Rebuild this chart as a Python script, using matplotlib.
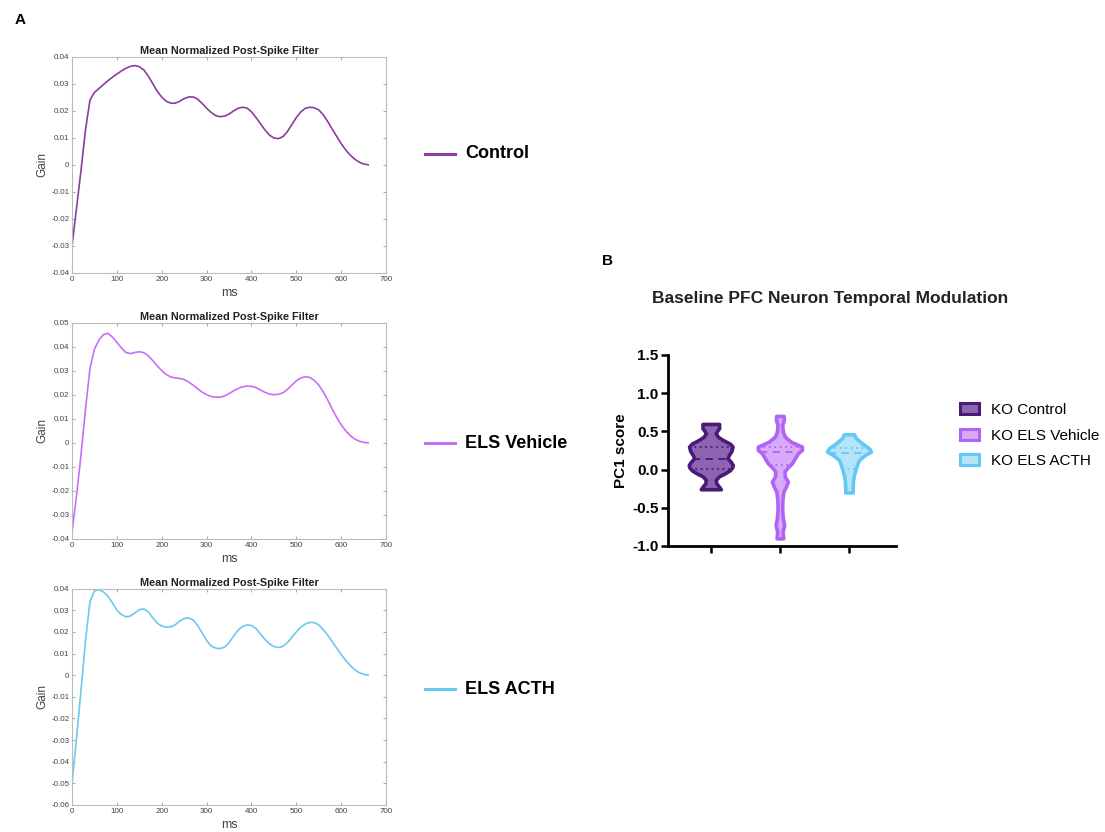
import numpy as np
import matplotlib
matplotlib.use("Agg")
import matplotlib.pyplot as plt
from matplotlib.patches import Patch

plt.rcParams['font.family'] = ['Liberation Sans', 'DejaVu Sans']

# ---- panel A: mean normalized post-spike filters (gain vs ms) ----
ms = list(range(0, 670, 10))

gain_control = [-0.030, -0.016, -0.002, 0.013, 0.024, 0.0268, 0.0282, 0.0297, 0.0311, 0.0324,
                0.0336, 0.0347, 0.0357, 0.0364, 0.0367, 0.0363, 0.0351, 0.0328, 0.0300, 0.0272,
                0.0250, 0.0235, 0.0228, 0.0228, 0.0235, 0.0245, 0.0251, 0.0251, 0.0243, 0.0227,
                0.0209, 0.0194, 0.0182, 0.0178, 0.0180, 0.0188, 0.0199, 0.0209, 0.0213, 0.0210,
                0.0196, 0.0175, 0.0152, 0.0129, 0.0110, 0.0099, 0.0097, 0.0104, 0.0123, 0.0149,
                0.0175, 0.0196, 0.0209, 0.0213, 0.0211, 0.0203, 0.0185, 0.0160, 0.0132, 0.0105,
                0.0078, 0.0055, 0.0036, 0.0021, 0.0010, 0.0003, 0.0]

gain_vehicle = [-0.037, -0.022, -0.005, 0.014, 0.031, 0.0390, 0.0428, 0.0450, 0.0456, 0.0440,
                0.0418, 0.0395, 0.0376, 0.0371, 0.0376, 0.0379, 0.0375, 0.0362, 0.0342, 0.0320,
                0.0300, 0.0284, 0.0274, 0.0270, 0.0268, 0.0263, 0.0253, 0.0240, 0.0225, 0.0211,
                0.0200, 0.0193, 0.0190, 0.0190, 0.0195, 0.0205, 0.0216, 0.0226, 0.0233, 0.0236,
                0.0235, 0.0230, 0.0220, 0.0210, 0.0203, 0.0200, 0.0202, 0.0208, 0.0222, 0.0240,
                0.0258, 0.0270, 0.0275, 0.0272, 0.0260, 0.0240, 0.0212, 0.0178, 0.0140, 0.0105,
                0.0075, 0.0050, 0.0030, 0.0016, 0.0007, 0.0002, 0.0]

gain_acth = [-0.050, -0.029, -0.007, 0.016, 0.034, 0.0390, 0.0395, 0.0385, 0.0365, 0.0335,
             0.0300, 0.0280, 0.0270, 0.0273, 0.0288, 0.0303, 0.0306, 0.0293, 0.0265, 0.0240,
             0.0227, 0.0222, 0.0223, 0.0233, 0.0250, 0.0262, 0.0265, 0.0255, 0.0230, 0.0195,
             0.0160, 0.0135, 0.0125, 0.0123, 0.0130, 0.0150, 0.0180, 0.0208, 0.0225, 0.0232,
             0.0230, 0.0215, 0.0190, 0.0165, 0.0145, 0.0132, 0.0128, 0.0133, 0.0150, 0.0175,
             0.0200, 0.0222, 0.0237, 0.0244, 0.0243, 0.0232, 0.0210, 0.0185, 0.0155, 0.0125,
             0.0095, 0.0068, 0.0045, 0.0025, 0.0012, 0.0004, 0.0]

psf_names = ['Control', 'ELS Vehicle', 'ELS ACTH']
psf_colors = ['#8a3d9e', '#c86ef8', '#6cc8f0']
psf_ylims = [(-0.04, 0.04), (-0.04, 0.05), (-0.06, 0.04)]

# ---- panel B: PC1 score violins (outline profiles: y, half-width) ----
groups = ['KO Control', 'KO ELS Vehicle', 'KO ELS ACTH']
ctrl_y = [-0.258, -0.22, -0.18, -0.136, -0.09, -0.05, -0.01, 0.03, 0.06, 0.10, 0.148,
          0.19, 0.24, 0.30, 0.34, 0.387, 0.43, 0.475, 0.51, 0.54, 0.597]
ctrl_w = [10, 8, 5.5, 5, 8, 14, 19, 21.5, 22, 20, 16.7, 18, 20.5, 21.7, 19, 12, 7, 5, 6.5, 8.3, 8.3]
veh_y = [-0.90, -0.813, -0.725, -0.637, -0.529, -0.398, -0.29, -0.224, -0.158, -0.093,
         -0.027, 0.017, 0.082, 0.148, 0.213, 0.257, 0.30, 0.365, 0.43, 0.496, 0.584, 0.649, 0.702]
veh_w = [3.3, 2.7, 4.3, 3, 2.3, 2.5, 3.5, 6, 8, 5, 4.5, 7, 12, 15, 18, 22, 22, 11, 5, 3, 2.3, 4, 3.7]
acth_y = [-0.30, -0.245, -0.158, -0.071, -0.005, 0.06, 0.126, 0.19, 0.235, 0.279, 0.344, 0.41, 0.462]
acth_w = [3.7, 3.7, 4, 5, 6.5, 8, 10, 16, 22, 20, 13, 7, 5]
medians = [0.139, 0.23, 0.22]
q1 = [0.012, 0.06, 0.01]
q3 = [0.30, 0.30, 0.28]
edge_colors = ['#4b1978', '#af64f5', '#64c8f5']
fill_colors = ['#8c64af', '#d7aafa', '#b4e4fa']

fig = plt.figure(figsize=(11.05, 8.32), dpi=100)

# panel A
bottoms = [0.6719, 0.3522, 0.0325]
legend_y = [154, 443, 689]
for i, (g, name, col, yl) in enumerate(zip([gain_control, gain_vehicle, gain_acth],
                                            psf_names, psf_colors, psf_ylims)):
    ax = fig.add_axes([0.0652, bottoms[i], 0.2842, 0.2600])
    ax.plot(ms, g, color=col, lw=1.2)
    ax.set_xlim(0, 700)
    ax.set_ylim(*yl)
    ax.set_yticks(np.round(np.arange(yl[0], yl[1] + 0.001, 0.01), 2))
    ax.set_yticklabels(['0' if abs(t) < 1e-9 else f'{t:g}' for t in ax.get_yticks()])
    ax.set_xticks(range(0, 701, 100))
    ax.tick_params(direction='in', top=True, right=True, length=2.5, width=0.6,
                   labelsize=5.8, colors='#999999', labelcolor='#444444', pad=2)
    for s in ax.spines.values():
        s.set_color('#bbbbbb')
        s.set_linewidth(0.8)
    ax.set_title('Mean Normalized Post-Spike Filter', fontsize=7.8, fontweight='bold',
                 color='#222222', pad=2)
    ax.set_xlabel('ms', fontsize=9, color='#444444', labelpad=3)
    ax.set_ylabel('Gain', fontsize=8.5, color='#444444', labelpad=2)

    yf = 1 - legend_y[i] / 832
    fig.add_artist(plt.Line2D([425 / 1105, 455 / 1105], [yf, yf], color=col, lw=2.2))
    fig.text(465 / 1105, yf, name, fontsize=13, fontweight='bold', va='center', ha='left')

fig.text(15 / 1105, 1 - 20 / 832, 'A', fontsize=11, fontweight='bold', va='center')

# panel B
axb = fig.add_axes([0.6045, 0.3438, 0.2063, 0.2296])
px_per_unit = 69.0
profiles = [(ctrl_y, ctrl_w), (veh_y, veh_w), (acth_y, acth_w)]
for i, (yy, ww) in enumerate(profiles):
    yy = np.array(yy)
    hw = np.array(ww) / px_per_unit
    axb.fill_betweenx(yy, i - hw, i + hw, facecolor=fill_colors[i], edgecolor=edge_colors[i],
                      lw=2.6, joinstyle='round', zorder=2)
    for val, ls in [(medians[i], (0, (4, 3))), (q1[i], (0, (1, 2))), (q3[i], (0, (1, 2)))]:
        w = np.interp(val, yy, hw)
        axb.plot([i - w, i + w], [val, val], color=edge_colors[i], lw=1.3, ls=ls, zorder=3)

axb.set_xlim(-0.62, 2.68)
axb.set_ylim(-1.0, 1.5)
axb.set_yticks([-1.0, -0.5, 0.0, 0.5, 1.0, 1.5])
axb.set_yticklabels(['-1.0', '-0.5', '0.0', '0.5', '1.0', '1.5'], fontweight='bold')
axb.set_xticks([0, 1, 2])
axb.set_xticklabels([])
axb.tick_params(axis='both', direction='out', length=5, width=1.8, labelsize=11, pad=2)
for s in ['top', 'right']:
    axb.spines[s].set_visible(False)
for s in ['left', 'bottom']:
    axb.spines[s].set_linewidth(2)
axb.set_ylabel('PC1 score', fontsize=11, fontweight='bold', labelpad=3)

fig.text(830 / 1105, 1 - 299 / 832, 'Baseline PFC Neuron Temporal Modulation', fontsize=12.5,
         fontweight='bold', ha='center', va='center', color='#222222')
fig.text(602 / 1105, 1 - 261 / 832, 'B', fontsize=11, fontweight='bold', va='center')

handles = [Patch(facecolor=f, edgecolor=e, lw=2.2) for f, e in zip(fill_colors, edge_colors)]
fig.legend(handles, groups, loc='upper left', bbox_to_anchor=(954 / 1105, 1 - 397 / 832),
           frameon=False, fontsize=11, handlelength=1.25, handleheight=0.75,
           handletextpad=0.8, labelspacing=0.75, borderaxespad=0)

fig.savefig('out.png', dpi=100, facecolor='white')
